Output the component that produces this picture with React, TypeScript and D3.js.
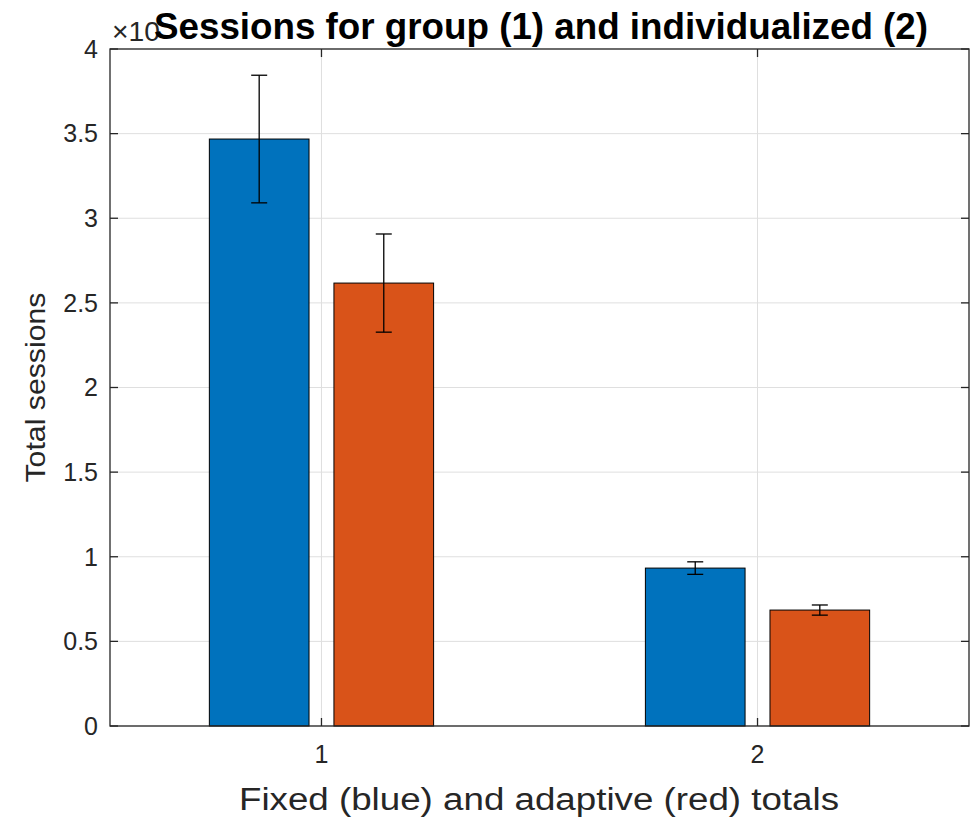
import React from "react";
import { scaleLinear, range } from "d3";

// data (values in sessions, axis shows x10^4)
const groups = [1, 2];
const fixedTotals = [34680, 9330];
const fixedErr = [3770, 370];
const adaptiveTotals = [26170, 6850];
const adaptiveErr = [2900, 300];
const yTickLabels = ["0", "0.5", "1", "1.5", "2", "2.5", "3", "3.5", "4"];

const width = 971;
const height = 821;
const margin = { top: 49, right: 2, bottom: 95, left: 110 };
const innerW = width - margin.left - margin.right;
const innerH = height - margin.top - margin.bottom;

const axisColor = "#262626";
const gridColor = "#dfdfdf";
const colors = ["#0072BD", "#D95319"];
const font = "Arial, 'Liberation Sans', Helvetica, sans-serif";

// matlab grouped bar layout for 2 series
const groupWidth = Math.min(0.8, 2 / (2 + 1.5));
const barWidth = (groupWidth / 2) * 0.8;
const offsets = [-groupWidth / 4, groupWidth / 4];

export default function App() {
  const x = scaleLinear().domain([0.515, 2.485]).range([0, innerW]);
  const y = scaleLinear().domain([0, 40000]).range([innerH, 0]);
  const yTicks = range(0, 40001, 5000);

  const series = [
    { values: fixedTotals, errs: fixedErr },
    { values: adaptiveTotals, errs: adaptiveErr },
  ];
  const bw = x(barWidth) - x(0);
  const capHalf = 8;

  return (
    <svg
      width={width}
      height={height}
      style={{ position: "absolute", left: 0, top: 0, background: "#fff" }}
      fontFamily={font}
    >
      <rect width={width} height={height} fill="#fff" />
      <g transform={`translate(${margin.left},${margin.top})`}>
        {/* grid */}
        {yTicks.map((t) => (
          <line key={"gy" + t} x1={0} x2={innerW} y1={y(t)} y2={y(t)} stroke={gridColor} strokeWidth={1} />
        ))}
        {groups.map((g) => (
          <line key={"gx" + g} x1={x(g)} x2={x(g)} y1={0} y2={innerH} stroke={gridColor} strokeWidth={1} />
        ))}

        {/* bars */}
        {series.map((s, si) =>
          s.values.map((v, gi) => {
            const cx = x(groups[gi] + offsets[si]);
            return (
              <rect
                key={`b${si}-${gi}`}
                x={cx - bw / 2}
                y={y(v)}
                width={bw}
                height={innerH - y(v)}
                fill={colors[si]}
                stroke="#000"
                strokeWidth={1}
              />
            );
          })
        )}

        {/* error bars */}
        {series.map((s, si) =>
          s.values.map((v, gi) => {
            const cx = x(groups[gi] + offsets[si]);
            const top = y(v + s.errs[gi]);
            const bot = y(v - s.errs[gi]);
            return (
              <g key={`e${si}-${gi}`} stroke="#000" strokeWidth={1.3}>
                <line x1={cx} x2={cx} y1={top} y2={bot} />
                <line x1={cx - capHalf} x2={cx + capHalf} y1={top} y2={top} />
                <line x1={cx - capHalf} x2={cx + capHalf} y1={bot} y2={bot} />
              </g>
            );
          })
        )}

        {/* box + ticks */}
        <rect x={0} y={0} width={innerW} height={innerH} fill="none" stroke={axisColor} strokeWidth={1.3} />
        {yTicks.map((t) => (
          <g key={"ty" + t} stroke={axisColor} strokeWidth={1.3}>
            <line x1={0} x2={8} y1={y(t)} y2={y(t)} />
            <line x1={innerW - 8} x2={innerW} y1={y(t)} y2={y(t)} />
          </g>
        ))}
        {groups.map((g) => (
          <g key={"tx" + g} stroke={axisColor} strokeWidth={1.3}>
            <line x1={x(g)} x2={x(g)} y1={innerH} y2={innerH - 8} />
            <line x1={x(g)} x2={x(g)} y1={0} y2={8} />
          </g>
        ))}

        {/* tick labels */}
        {yTicks.map((t, i) => (
          <text
            key={"ly" + t}
            x={-12}
            y={y(t)}
            dy="0.35em"
            textAnchor="end"
            fontSize={25}
            fill={axisColor}
          >
            {yTickLabels[i]}
          </text>
        ))}
        {groups.map((g) => (
          <text key={"lx" + g} x={x(g)} y={innerH + 37} textAnchor="middle" fontSize={25} fill={axisColor}>
            {g}
          </text>
        ))}

        {/* exponent */}
        <text x={2} y={-8} fontSize={27} fill={axisColor} textLength={48} lengthAdjust="spacingAndGlyphs">
          ×10
        </text>
      </g>

      {/* title */}
      <text
        x={541}
        y={39}
        textAnchor="middle"
        fontSize={36}
        fontWeight="bold"
        fill="#000"
        textLength={774}
        lengthAdjust="spacingAndGlyphs"
      >
        Sessions for group (1) and individualized (2)
      </text>

      {/* axis labels */}
      <text
        x={539}
        y={810}
        textAnchor="middle"
        fontSize={31}
        fill={axisColor}
        textLength={600}
        lengthAdjust="spacingAndGlyphs"
      >
        Fixed (blue) and adaptive (red) totals
      </text>
      <text
        transform={`translate(45,${margin.top + innerH / 2}) rotate(-90)`}
        textAnchor="middle"
        fontSize={28}
        fill={axisColor}
        textLength={190}
        lengthAdjust="spacingAndGlyphs"
      >
        Total sessions
      </text>
    </svg>
  );
}
